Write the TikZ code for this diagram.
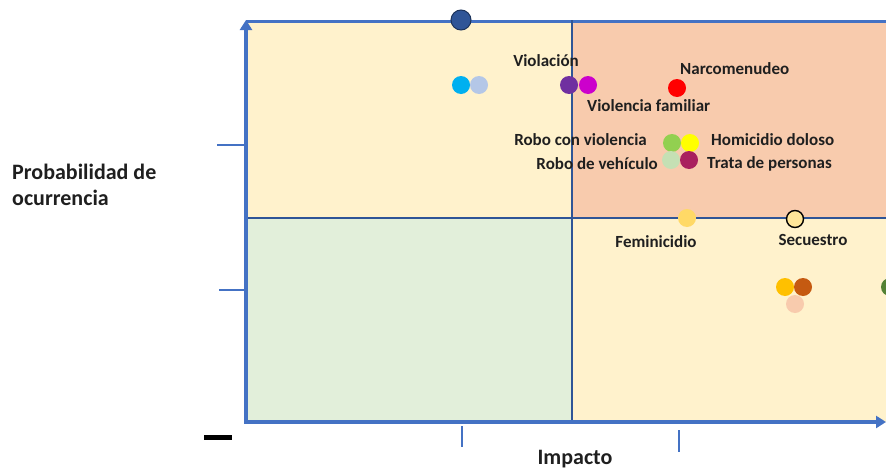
\documentclass[tikz,border=0pt]{standalone}
\usepackage{fontspec}
\setmainfont{Carlito}
\usetikzlibrary{arrows.meta}
\definecolor{cream}{HTML}{FFF2CC}
\definecolor{salmon}{HTML}{F8CBAD}
\definecolor{palegreen}{HTML}{E2EFDA}
\definecolor{axisblue}{HTML}{4472C4}
\definecolor{divblue}{HTML}{2F5597}
\definecolor{navy}{HTML}{2F5597}
\definecolor{cyanc}{HTML}{00B0F0}
\definecolor{lblue}{HTML}{B4C7E7}
\definecolor{purp}{HTML}{7030A0}
\definecolor{magc}{HTML}{CC00CC}
\definecolor{redc}{HTML}{FF0000}
\definecolor{lgreen}{HTML}{92D050}
\definecolor{yell}{HTML}{FFFF00}
\definecolor{sage}{HTML}{C5E0B4}
\definecolor{maroon}{HTML}{A9205E}
\definecolor{gold}{HTML}{FFD966}
\definecolor{pyell}{HTML}{FFE699}
\definecolor{orangec}{HTML}{FFC000}
\definecolor{brownc}{HTML}{C55A11}
\definecolor{peach}{HTML}{F8CBAD}
\definecolor{dgreen}{HTML}{548235}
\tikzset{
  dot/.style={circle, inner sep=0pt, minimum size=18pt, fill=#1, draw=none},
  lbl/.style={font=\bfseries\fontsize{17}{18}\selectfont, text=black!88, inner sep=0pt},
  axlbl/.style={font=\bfseries\fontsize{22}{26}\selectfont, text=black!88, inner sep=0pt, align=left},
  tick/.style={axisblue, line width=1.3pt},
}
\begin{document}
\begin{tikzpicture}[x=1pt,y=-1pt]
\useasboundingbox (0,0) rectangle (886,471);
\clip (0,0) rectangle (886,471);
% quadrants
\fill[cream] (248,20) rectangle (572,218);
\fill[salmon] (572,20) rectangle (900,218);
\fill[palegreen] (248,218) rectangle (572,422);
\fill[cream] (572,218) rectangle (900,422);
% top border and dividers
\draw[axisblue, line width=3pt] (246,21) -- (900,21);
\draw[divblue, line width=2.5pt] (572,20) -- (572,422);
\draw[divblue, line width=2.5pt] (248,218) -- (900,218);
% axes
\coordinate (o) at (246,422);
\coordinate (ytop) at (246,20);
\coordinate (xend) at (886,422);
\draw[axisblue, line width=4pt, -{Triangle[length=10pt,width=12pt]}] (o) -- (ytop);
\draw[axisblue, line width=4pt, -{Triangle[length=10pt,width=12pt]}] ([xshift=-2pt]o) -- (xend);
% ticks
\draw[tick] (217,145) -- (245,145);
\draw[tick] (219,290) -- (245,290);
\draw[tick] (462,426) -- (462,447);
\draw[tick] (679,430) -- (679,452);
\fill[black] (204,435) rectangle (232,440);
% axis labels
\node[axlbl, anchor=west] (ylab) at (12,185) {Probabilidad de\\ocurrencia};
\node[axlbl, anchor=center] (xlab) at (575,459) {Impacto};
% dots
\node[dot=navy, minimum size=20pt, draw=divblue!60!black, line width=1pt] (d1) at (461,20) {};
\node[dot=cyanc] (d2) at (461,85) {};
\node[dot=lblue] (d3) at (479,85) {};
\node[dot=purp] (viol) at (569,85) {};
\node[dot=magc] (vfam) at (588,85) {};
\node[dot=redc] (narc) at (677,88) {};
\node[dot=lgreen] (robv) at (672,143) {};
\node[dot=yell] (homi) at (690,143) {};
\node[dot=sage] (robveh) at (671,160) {};
\node[dot=maroon] (trata) at (689,160) {};
\node[dot=gold] (femi) at (687,218) {};
\node[dot=pyell, minimum size=17pt, draw=black, line width=1.4pt] (secu) at (795,219) {};
\node[dot=orangec] (d4) at (785,287) {};
\node[dot=brownc] (d5) at (803,287) {};
\node[dot=peach] (d6) at (795,304) {};
\node[dot=dgreen] (d7) at (890,287) {};
% labels
\node[lbl, anchor=center] (tviol) at (546,61) {Violación};
\node[lbl, anchor=west] (tnarc) at (680,69) {Narcomenudeo};
\node[lbl, anchor=west] (tvfam) at (587,106) {Violencia familiar};
\node[lbl, anchor=east] (trobv) at (647,140) {Robo con violencia};
\node[lbl, anchor=west] (thomi) at (711,140) {Homicidio doloso};
\node[lbl, anchor=east] (trobveh) at (658,164) {Robo de vehículo};
\node[lbl, anchor=west] (ttrata) at (707,164) {Trata de personas};
\node[lbl, anchor=center] (tfemi) at (656,242) {Feminicidio};
\node[lbl, anchor=center] (tsecu) at (813,240) {Secuestro};
\end{tikzpicture}
\end{document}
